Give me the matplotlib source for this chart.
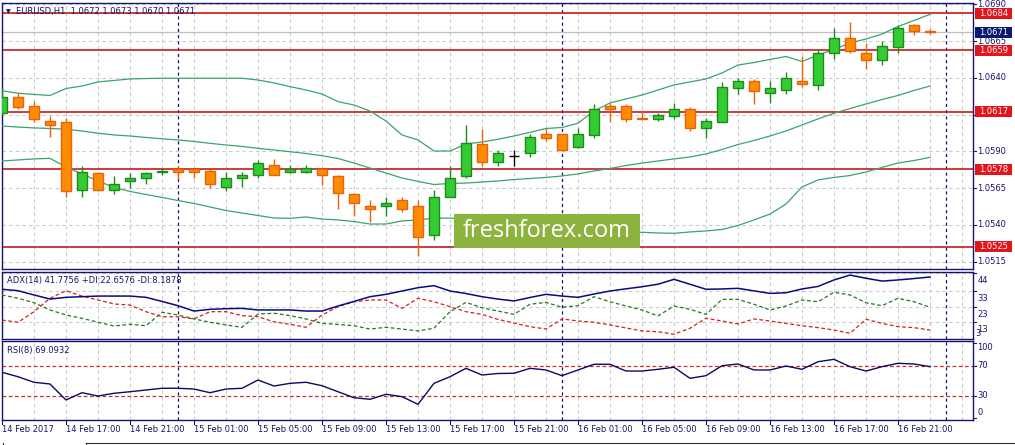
import numpy as np
import matplotlib
matplotlib.use("Agg")
import matplotlib.pyplot as plt
from matplotlib.patches import Rectangle
from matplotlib.lines import Line2D

# ---------------- data ----------------
symbol_title = "EURUSD,H1  1.0672 1.0673 1.0670 1.0671"
adx_title = "ADX(14) 41.7756 +DI:22.6576 -DI:8.1878"
rsi_title = "RSI(8) 69.0932"

opens = [1.0616, 1.0627, 1.0621, 1.0611, 1.0610, 1.0564, 1.0575, 1.0564, 1.0570, 1.0572,
         1.0576, 1.0578, 1.0578, 1.0577, 1.0566, 1.0572, 1.0574, 1.0581, 1.0576, 1.0576,
         1.0578, 1.0573, 1.0561, 1.0553, 1.0553, 1.0557, 1.0553, 1.0533, 1.0559, 1.0573,
         1.0595, 1.0583, 1.0587, 1.0589, 1.0602, 1.0602, 1.0593, 1.0601, 1.0621, 1.0621,
         1.0613, 1.0612, 1.0614, 1.0619, 1.0606, 1.0610, 1.0633, 1.0638, 1.0630, 1.0632,
         1.0638, 1.0635, 1.0657, 1.0667, 1.0657, 1.0652, 1.0661, 1.0676, 1.0672]
highs = [1.0633, 1.0630, 1.0624, 1.0614, 1.0613, 1.0580, 1.0576, 1.0573, 1.0575, 1.0576,
         1.0579, 1.0580, 1.0579, 1.0578, 1.0576, 1.0576, 1.0584, 1.0585, 1.0581, 1.0581,
         1.0579, 1.0574, 1.0562, 1.0557, 1.0559, 1.0559, 1.0557, 1.0564, 1.0580, 1.0608,
         1.0605, 1.0591, 1.0591, 1.0602, 1.0606, 1.0602, 1.0606, 1.0622, 1.0623, 1.0622,
         1.0618, 1.0616, 1.0623, 1.0620, 1.0613, 1.0637, 1.0640, 1.0639, 1.0638, 1.0644,
         1.0655, 1.0660, 1.0674, 1.0678, 1.0664, 1.0665, 1.0676, 1.0677, 1.0673]
lows = [1.0615, 1.0619, 1.0610, 1.0600, 1.0559, 1.0559, 1.0563, 1.0561, 1.0565, 1.0568,
        1.0574, 1.0571, 1.0572, 1.0565, 1.0563, 1.0566, 1.0572, 1.0574, 1.0575, 1.0575,
        1.0567, 1.0551, 1.0546, 1.0542, 1.0546, 1.0549, 1.0519, 1.0530, 1.0559, 1.0572,
        1.0580, 1.0580, 1.0580, 1.0586, 1.0597, 1.0590, 1.0592, 1.0599, 1.0610, 1.0610,
        1.0612, 1.0611, 1.0612, 1.0604, 1.0599, 1.0610, 1.0629, 1.0622, 1.0623, 1.0629,
        1.0634, 1.0632, 1.0653, 1.0657, 1.0646, 1.0649, 1.0657, 1.0669, 1.0670]
closes = [1.0627, 1.0620, 1.0612, 1.0608, 1.0563, 1.0576, 1.0564, 1.0568, 1.0572, 1.0575,
          1.0577, 1.0576, 1.0576, 1.0568, 1.0572, 1.0574, 1.0582, 1.0574, 1.0578, 1.0579,
          1.0574, 1.0562, 1.0555, 1.0551, 1.0555, 1.0551, 1.0532, 1.0559, 1.0572, 1.0596,
          1.0583, 1.0589, 1.0587, 1.0600, 1.0599, 1.0591, 1.0602, 1.0619, 1.0619, 1.0612,
          1.0612, 1.0615, 1.0619, 1.0606, 1.0611, 1.0634, 1.0638, 1.0631, 1.0633, 1.0640,
          1.0636, 1.0657, 1.0667, 1.0658, 1.0652, 1.0662, 1.0674, 1.0672, 1.0671]

bb_upper = [1.06313, 1.06296, 1.06288, 1.06281, 1.06328, 1.06345, 1.06373, 1.06383, 1.06393, 1.06396,
            1.06398, 1.06398, 1.06398, 1.06398, 1.06398, 1.06398, 1.06386, 1.06366, 1.06341, 1.06318,
            1.06291, 1.06239, 1.06216, 1.06175, 1.06107, 1.06012, 1.05978, 1.05903, 1.05903, 1.05951,
            1.05964, 1.05983, 1.06005, 1.06030, 1.06056, 1.06063, 1.06092, 1.06175, 1.06230, 1.06257,
            1.06284, 1.06318, 1.06352, 1.06373, 1.06393, 1.06434, 1.06488, 1.06505, 1.06526, 1.06546,
            1.06512, 1.06556, 1.06594, 1.06638, 1.06665, 1.06699, 1.06750, 1.06791, 1.06833]
bb_middle = [1.06073, 1.06066, 1.06060, 1.06056, 1.06051, 1.06039, 1.06024, 1.06012, 1.06005, 1.05995,
             1.05986, 1.05978, 1.05968, 1.05955, 1.05944, 1.05934, 1.05921, 1.05910, 1.05898, 1.05886,
             1.05871, 1.05852, 1.05821, 1.05787, 1.05753, 1.05719, 1.05696, 1.05675, 1.05682, 1.05685,
             1.05692, 1.05699, 1.05709, 1.05716, 1.05723, 1.05733, 1.05747, 1.05767, 1.05784, 1.05804,
             1.05821, 1.05835, 1.05849, 1.05862, 1.05883, 1.05913, 1.05947, 1.05975, 1.06005, 1.06039,
             1.06080, 1.06121, 1.06160, 1.06192, 1.06223, 1.06253, 1.06281, 1.06315, 1.06345]
bb_lower = [1.05835, 1.05842, 1.05849, 1.05853, 1.05794, 1.05747, 1.05699, 1.05655, 1.05628, 1.05607,
            1.05587, 1.05566, 1.05546, 1.05522, 1.05498, 1.05481, 1.05464, 1.05447, 1.05445, 1.05454,
            1.05440, 1.05434, 1.05423, 1.05406, 1.05406, 1.05427, 1.05434, 1.05445, 1.05447, 1.05434,
            1.05420, 1.05406, 1.05393, 1.05379, 1.05369, 1.05359, 1.05355, 1.05352, 1.05348, 1.05348,
            1.05350, 1.05345, 1.05343, 1.05352, 1.05359, 1.05369, 1.05396, 1.05434, 1.05474, 1.05542,
            1.05658, 1.05706, 1.05723, 1.05736, 1.05760, 1.05791, 1.05821, 1.05838, 1.05860]

adx = [34.0, 33.1, 30.4, 27.8, 28.9, 29.3, 29.7, 29.7, 29.7, 28.9,
       26.3, 23.6, 20.2, 21.3, 21.7, 21.9, 20.9, 20.9, 20.9, 20.2,
       20.2, 23.4, 26.3, 29.3, 30.8, 32.9, 35.0, 36.3, 32.9, 31.3,
       29.3, 27.8, 26.6, 28.8, 30.8, 29.7, 28.9, 31.0, 32.9, 34.3,
       35.6, 37.2, 40.3, 37.2, 34.0, 34.2, 34.6, 33.0, 31.4, 31.8,
       34.2, 35.8, 39.9, 43.0, 41.0, 39.2, 39.9, 40.8, 41.78]
plus_di = [30.4, 28.3, 25.5, 20.9, 17.7, 15.6, 13.1, 10.7, 11.8, 10.9,
           19.4, 17.7, 15.2, 13.1, 11.4, 9.9, 18.3, 18.8, 17.3, 15.2,
           12.4, 11.7, 10.9, 8.8, 9.9, 8.8, 7.6, 9.3, 19.8, 25.7,
           22.3, 20.2, 18.1, 24.5, 25.7, 22.6, 23.6, 29.3, 26.1, 23.4,
           20.9, 17.1, 23.4, 21.3, 18.1, 27.6, 27.6, 24.5, 20.9, 23.4,
           27.2, 26.1, 32.1, 30.4, 25.5, 23.6, 28.3, 26.1, 22.66]
minus_di = [14.5, 13.1, 19.8, 28.3, 33.1, 29.7, 27.2, 24.7, 24.0, 19.8,
            16.6, 16.6, 15.2, 19.8, 19.8, 17.3, 16.6, 13.4, 11.8, 9.9,
            17.7, 23.0, 26.1, 27.2, 27.2, 21.9, 28.3, 26.1, 23.0, 19.8,
            18.1, 14.9, 12.6, 10.3, 8.8, 15.2, 13.9, 13.1, 11.4, 9.5,
            7.6, 7.1, 5.5, 9.3, 15.6, 13.9, 12.0, 15.2, 13.9, 12.4,
            10.9, 9.7, 8.2, 6.1, 15.0, 12.4, 10.3, 9.7, 8.19]
rsi = [61.6, 55.7, 48.3, 46.0, 24.7, 34.4, 30.0, 33.6, 35.7, 38.0,
       40.3, 40.3, 39.3, 34.4, 39.3, 40.3, 51.3, 43.3, 46.9, 48.3,
       43.7, 35.7, 27.7, 25.6, 32.3, 29.1, 18.9, 46.9, 55.7, 66.9,
       58.0, 60.0, 60.3, 66.9, 64.7, 57.1, 64.7, 72.3, 72.3, 63.3,
       63.3, 65.6, 68.3, 53.6, 57.1, 70.4, 72.7, 64.7, 64.7, 70.0,
       65.6, 75.7, 78.9, 69.1, 63.3, 69.1, 73.6, 72.7, 69.09]

levels = [1.0684, 1.0659, 1.0617, 1.0578, 1.0525]
current_price = 1.0671
price_ticks = [1.0690, 1.0665, 1.0640, 1.0615, 1.0590, 1.0565, 1.0540, 1.0515]
adx_ticks = [44, 33, 23, 13]
rsi_levels = [70, 30]
rsi_ticks = [100, 70, 30, 0]
time_labels = ["14 Feb 2017", "14 Feb 17:00", "14 Feb 21:00", "15 Feb 01:00", "15 Feb 05:00",
               "15 Feb 09:00", "15 Feb 13:00", "15 Feb 17:00", "15 Feb 21:00", "16 Feb 01:00",
               "16 Feb 05:00", "16 Feb 09:00", "16 Feb 13:00", "16 Feb 17:00", "16 Feb 21:00"]
first_hour = 13  # first bar: 14 Feb 13:00

# ---------------- layout helpers ----------------
W, H = 1015, 445
fig = plt.figure(figsize=(W / 100, H / 100), dpi=100)
fig.patch.set_facecolor("white")

def rect(x0, y0, x1, y1):
    return [x0 / W, 1 - y1 / H, (x1 - x0) / W, (y1 - y0) / H]

def fx(px):
    return px / W

def fy(py):
    return 1 - py / H

NAVY = "#14146e"
GRID = "#c9c9c9"
LEVEL = "#c81a1a"
FS = 6

n = len(closes)
xs = np.arange(n)
XL = ((1.5 - 2) / 16, (973 - 2) / 16)

ax = fig.add_axes(rect(1.5, 3, 973, 269))
ax_adx = fig.add_axes(rect(1.5, 272, 973, 338.7))
ax_rsi = fig.add_axes(rect(1.5, 341, 973, 420))

for a in (ax, ax_adx, ax_rsi):
    a.set_xlim(*XL)
    a.set_xticks([])
    a.set_yticks([])
    a.set_facecolor("white")
    for s in a.spines.values():
        s.set_color(NAVY)
        s.set_linewidth(1.0)
    for k in range(0, 62, 2):
        a.axvline(k, color=GRID, lw=0.8, ls=(0, (3, 3)), zorder=0)
    for k in range(0, 62):
        if (first_hour + k) % 24 == 0:
            a.axvline(k, color=NAVY, lw=0.9, ls=(0, (2.5, 2.5)), zorder=1)

ax.set_ylim(1.05100, 1.06910)
ax_adx.set_ylim(2.68, 44.95)
ax_rsi.set_ylim(-2.0, 103.33)

def py_of(a, v):
    return H - a.transData.transform((0, v))[1]

# ---------------- main panel ----------------
for t in price_ticks:
    ax.axhline(t, color=GRID, lw=0.8, ls=(0, (3, 3)), zorder=0)
ax.axhline(current_price, color="#c0c0c0", lw=0.9, zorder=1)
for lv in levels:
    ax.axhline(lv, color=LEVEL, lw=1.2, zorder=2)

bb_col = "#3aa46a"
ax.plot(xs, bb_upper, color=bb_col, lw=0.9, zorder=3)
ax.plot(xs, bb_middle, color=bb_col, lw=0.9, zorder=3)
ax.plot(xs, bb_lower, color=bb_col, lw=0.9, zorder=3)

o = np.array(opens); c = np.array(closes); h = np.array(highs); l = np.array(lows)
bull = c > o
bear = c < o
doji = c == o
BULL_F, BULL_E = "#32cd32", "#1e8a1e"
BEAR_F, BEAR_E = "#ff8c00", "#e8620c"
ax.vlines(xs[bull], l[bull], h[bull], color=BULL_E, lw=1.0, zorder=4)
ax.vlines(xs[bear], l[bear], h[bear], color=BEAR_E, lw=1.0, zorder=4)
ax.vlines(xs[doji], l[doji], h[doji], color="black", lw=1.0, zorder=4)
ax.bar(xs[bull], (c - o)[bull], bottom=o[bull], width=0.6, color=BULL_F,
       edgecolor=BULL_E, linewidth=1.0, zorder=5)
ax.bar(xs[bear], (o - c)[bear], bottom=c[bear], width=0.6, color=BEAR_F,
       edgecolor=BEAR_E, linewidth=1.0, zorder=5)
ax.hlines(c[doji], xs[doji] - 0.32, xs[doji] + 0.32, color="black", lw=1.0, zorder=5)

# header
fig.text(fx(6), fy(11.5), "\u25BC", fontsize=4.5, color=NAVY, ha="left", va="center", zorder=10)
fig.text(fx(16.5), fy(11.7), symbol_title, fontsize=FS, color=NAVY, ha="left", va="center", zorder=10)

# right price axis labels
for t in price_ticks:
    py = py_of(ax, t)
    if py < 1:
        continue
    fig.add_artist(Line2D([fx(973), fx(976)], [fy(py), fy(py)], color=NAVY, lw=0.8))
    fig.text(fx(977.5), fy(py), f"{t:.4f}", fontsize=FS, color=NAVY, ha="left", va="center")

def tag(py, txt, col):
    fig.add_artist(Rectangle((fx(975), fy(py + 5.5)), 37 / W, 11 / H, transform=fig.transFigure,
                             facecolor=col, edgecolor="none", zorder=8))
    fig.text(fx(993.5), fy(py), txt, fontsize=FS, color="white", ha="center", va="center", zorder=9)

for lv in levels:
    tag(py_of(ax, lv), f"{lv:.4f}", "#e3141c")
tag(py_of(ax, current_price), f"{current_price:.4f}", "#0c1a6e")

# watermark
fig.add_artist(Rectangle((fx(454), fy(248)), 186 / W, 34 / H, transform=fig.transFigure,
                         facecolor="#8db33f", edgecolor="none", zorder=12))
fig.text(fx(547), fy(231), "freshforex.com", fontsize=17, family="Open Sans", color="white",
         ha="center", va="center", zorder=13)

# ---------------- ADX panel ----------------
for t in adx_ticks:
    ax_adx.axhline(t, color=GRID, lw=0.8, ls=(0, (3, 3)), zorder=0)
ax_adx.plot(xs, plus_di, color="#1f7a1f", lw=0.9, ls=(0, (3, 2)), zorder=3)
ax_adx.plot(xs, minus_di, color="#d02020", lw=0.9, ls=(0, (3, 2)), zorder=3)
ax_adx.plot(xs, adx, color="#0a0a80", lw=1.1, zorder=4)
fig.text(fx(7), fy(281), adx_title, fontsize=FS, color=NAVY, ha="left", va="center")
for t in adx_ticks + [3]:
    py = py_of(ax_adx, t)
    if py < 338:
        fig.add_artist(Line2D([fx(973), fx(976)], [fy(py), fy(py)], color=NAVY, lw=0.8))
for t in adx_ticks:
    py = py_of(ax_adx, t) + 7.5
    fig.text(fx(977.5), fy(py), f"{t}", fontsize=FS, color=NAVY, ha="left", va="center")
fig.text(fx(975.5), fy(333), "3", fontsize=FS, color=NAVY, ha="left", va="center")

# ---------------- RSI panel ----------------
for lv in rsi_levels:
    ax_rsi.axhline(lv, color="#c83030", lw=0.9, ls=(0, (3, 2)), zorder=2)
ax_rsi.plot(xs, rsi, color="#0a0a60", lw=1.0, zorder=4)
fig.text(fx(7), fy(351), rsi_title, fontsize=FS, color=NAVY, ha="left", va="center")
rsi_label_shift = {100: 4.5, 70: 0.0, 30: 0.0, 0: -5.5}
for t in rsi_ticks:
    py = py_of(ax_rsi, t)
    fig.add_artist(Line2D([fx(973), fx(976)], [fy(py), fy(py)], color=NAVY, lw=0.8))
    fig.text(fx(977.5), fy(py + rsi_label_shift[t]), f"{t}", fontsize=FS, color=NAVY,
             ha="left", va="center")

# ---------------- time axis ----------------
for j, lab in enumerate(time_labels):
    bar = 4 * j
    px = ax_rsi.transData.transform((bar, 0))[0]
    fig.add_artist(Line2D([fx(px), fx(px)], [fy(420), fy(424)], color=NAVY, lw=0.8))
    fig.text(fx(px + 0.5), fy(429.5), lab, fontsize=FS, color=NAVY, ha="left", va="center")

# bottom tab strip
fig.add_artist(Line2D([fx(86), fx(1015)], [fy(443.3), fy(443.3)], color="#303030", lw=0.8))
fig.add_artist(Line2D([fx(86), fx(86)], [fy(443.3), fy(445)], color="#303030", lw=0.8))
fig.add_artist(Line2D([fx(3), fx(3)], [fy(443.3), fy(445)], color="#303030", lw=0.8))

fig.savefig("out.png", dpi=100, facecolor="white")
